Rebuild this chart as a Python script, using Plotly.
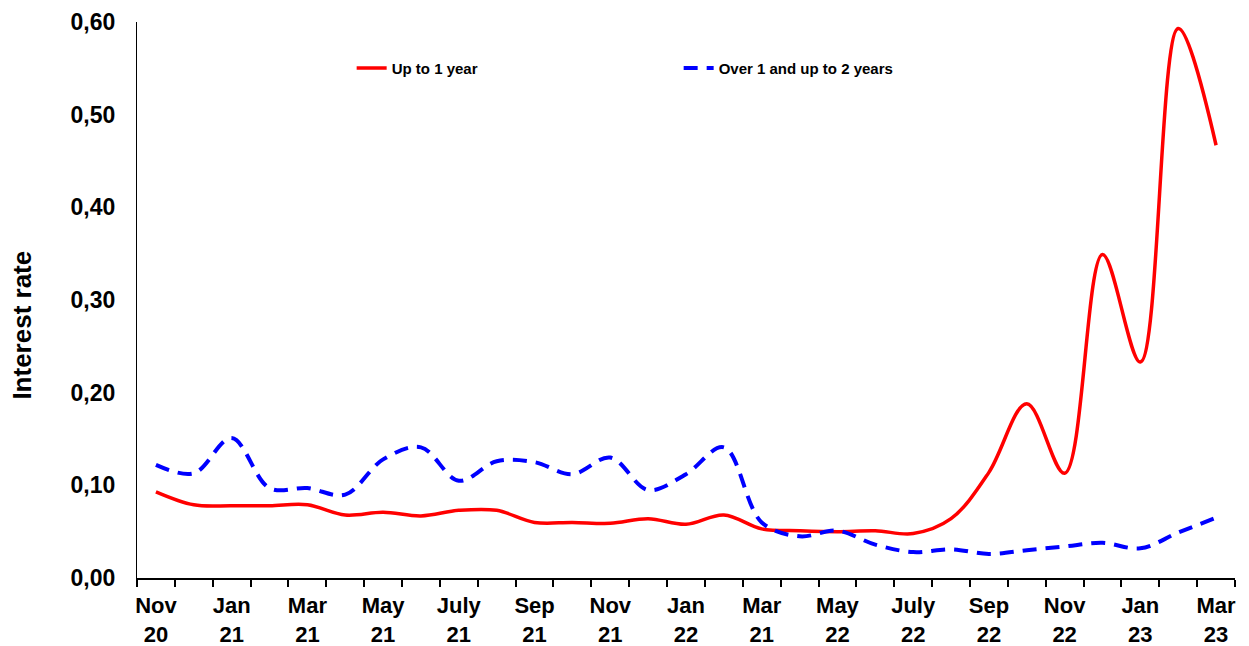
import plotly.graph_objects as go

months = ["Nov 20", "Dec 20", "Jan 21", "Feb 21", "Mar 21", "Apr 21", "May 21", "Jun 21",
          "Jul 21", "Aug 21", "Sep 21", "Oct 21", "Nov 21", "Dec 21", "Jan 22", "Feb 22",
          "Mar 22", "Apr 22", "May 22", "Jun 22", "Jul 22", "Aug 22", "Sep 22", "Oct 22",
          "Nov 22", "Dec 22", "Jan 23", "Feb 23", "Mar 23"]

up_to_1y = [0.093, 0.079, 0.078, 0.078, 0.079, 0.068, 0.071, 0.067, 0.073, 0.073,
            0.060, 0.060, 0.059, 0.064, 0.058, 0.068, 0.053, 0.051, 0.050, 0.051,
            0.048, 0.064, 0.114, 0.188, 0.113, 0.349, 0.233, 0.593, 0.467]

over1_to_2y = [0.122, 0.113, 0.151, 0.097, 0.097, 0.090, 0.128, 0.141, 0.105, 0.126,
               0.125, 0.112, 0.130, 0.095, 0.112, 0.141, 0.060, 0.045, 0.051, 0.036,
               0.028, 0.031, 0.026, 0.030, 0.034, 0.038, 0.032, 0.049, 0.065]

tick_labels = ["Nov<br>20", "Jan<br>21", "Mar<br>21", "May<br>21", "July<br>21", "Sep<br>21",
               "Nov<br>21", "Jan<br>22", "Mar<br>21", "May<br>22", "July<br>22", "Sep<br>22",
               "Nov<br>22", "Jan<br>23", "Mar<br>23"]

x_idx = list(range(len(months)))
tick_pos = x_idx[::2]

FONT = "Liberation Sans, Arial, sans-serif"

fig = go.Figure()
fig.add_trace(go.Scatter(
    x=x_idx, y=up_to_1y, name="Up to 1 year", mode="lines",
    line=dict(color="#FF0000", width=3.5, shape="spline", smoothing=1.0),
    text=months, hoverinfo="text+y"))
fig.add_trace(go.Scatter(
    x=x_idx, y=over1_to_2y, name="Over 1 and up to 2 years", mode="lines",
    line=dict(color="#0000FF", width=4, shape="spline", smoothing=1.0, dash="14px,9px"),
    text=months, hoverinfo="text+y"))

fig.update_layout(
    width=1241, height=638,
    margin=dict(l=129, r=14, t=14, b=68),
    paper_bgcolor="white", plot_bgcolor="white",
    separators=",.",
    font=dict(family=FONT, size=19, color="black"),
    showlegend=True,
    legend=dict(orientation="h", x=0.1955, y=0.917, xanchor="left", yanchor="middle",
                font=dict(family=FONT, size=15, color="black", weight="bold"),
                entrywidth=282, entrywidthmode="pixels", bgcolor="rgba(0,0,0,0)",
                itemwidth=30),
    xaxis=dict(range=[-0.5, len(months) - 0.5], tickmode="array", tickvals=tick_pos,
               ticktext=tick_labels, ticks="outside", ticklen=0, showgrid=False,
               zeroline=False, showline=True, linecolor="black", linewidth=1.5,
               ticklabelstandoff=7, automargin=False,
               tickfont=dict(family=FONT, size=22, color="black", weight="bold"),
               minor=dict(tickmode="linear", tick0=-0.5, dtick=1, ticks="outside",
                          ticklen=7, tickcolor="black", tickwidth=1.5, showgrid=False)),
    yaxis=dict(range=[0, 0.6], tickmode="linear", tick0=0, dtick=0.1, tickformat=".2f",
               showgrid=False, zeroline=False, showline=True, linecolor="black",
               linewidth=1.2, ticks="", ticklabelstandoff=16, automargin=False,
               tickfont=dict(family=FONT, size=23, color="black", weight="bold")),
)

fig.add_annotation(text="Interest rate", xref="paper", yref="paper",
                   x=-0.1047, y=0.454, textangle=-90, showarrow=False,
                   xanchor="center", yanchor="middle",
                   font=dict(family=FONT, size=26, color="black", weight="bold"))

fig.write_html("out.html")
